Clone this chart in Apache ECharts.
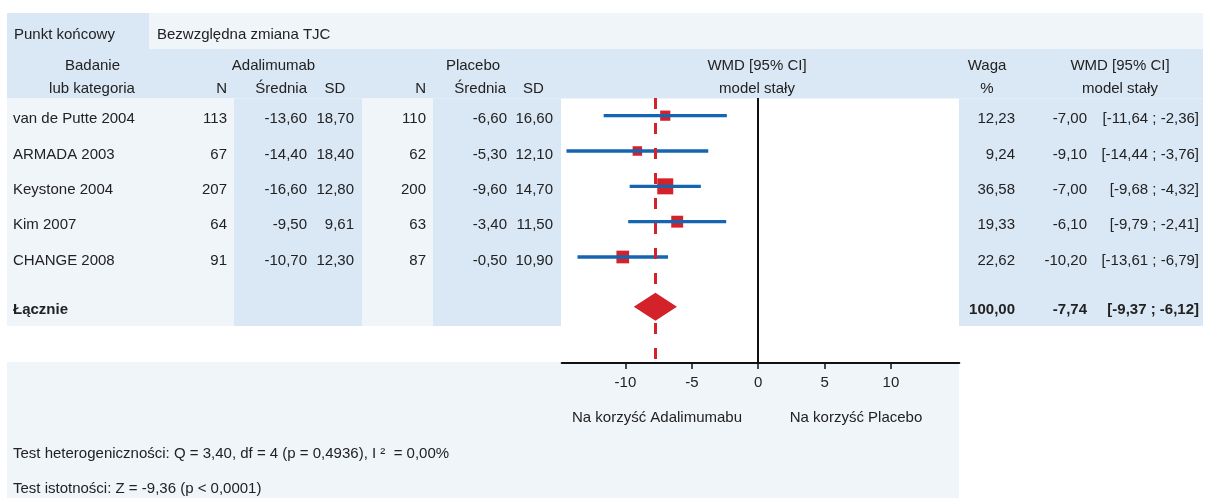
<!DOCTYPE html>
<html>
<head>
<meta charset="utf-8">
<script src="https://cdn.jsdelivr.net/npm/echarts@6/dist/echarts.min.js"></script>
<style>
  html, body { margin: 0; padding: 0; background: #fff; }
  #chart { width: 1206px; height: 498px; }
</style>
</head>
<body>
<div id="chart"></div>
<script>
// dane badań
const studies = ['van de Putte 2004', 'ARMADA 2003', 'Keystone 2004', 'Kim 2007', 'CHANGE 2008'];
const adaN = [113, 67, 207, 64, 91];
const adaMean = [-13.60, -14.40, -16.60, -9.50, -10.70];
const adaSD = [18.70, 18.40, 12.80, 9.61, 12.30];
const plaN = [110, 62, 200, 63, 87];
const plaMean = [-6.60, -5.30, -9.60, -3.40, -0.50];
const plaSD = [16.60, 12.10, 14.70, 11.50, 10.90];
const weights = [12.23, 9.24, 36.58, 19.33, 22.62];
const wmd = [-7.00, -9.10, -7.00, -6.10, -10.20];
const ciLow = [-11.64, -14.44, -9.68, -9.79, -13.61];
const ciHigh = [-2.36, -3.76, -4.32, -2.41, -6.79];

// wynik łączny
const pooledLabel = 'Łącznie';
const pooledWeight = 100.00;
const pooledWmd = -7.74;
const pooledCi = [-9.37, -6.12];

// oś x
const xTicks = [-10, -5, 0, 5, 10];

const FONT = '15px "Liberation Sans", Arial, sans-serif';
const BOLD = 'bold 15px "Liberation Sans", Arial, sans-serif';
const TEXT = '#222';
const BLUE_BG = '#dae7f4';
const LIGHT_BG = '#f0f5fa';
const RED = '#d3222a';
const LINE_BLUE = '#1565b0';

// wiersz łączny jest trochę niżej niż kolejny wiersz
const pooledRow = studies.length - 1 + 1.41;

function fmt(v) {
    return v.toFixed(2).replace('.', ',');
}
function ci(lo, hi) {
    return '[' + fmt(lo) + ' ; ' + fmt(hi) + ']';
}

// kolumny tabeli (x w pikselach, wyrównanie)
const columns = [
    {x: 13, align: 'left', get: i => studies[i]},
    {x: 227, align: 'right', get: i => adaN[i] + ''},
    {x: 307, align: 'right', get: i => fmt(adaMean[i])},
    {x: 354, align: 'right', get: i => fmt(adaSD[i])},
    {x: 426, align: 'right', get: i => plaN[i] + ''},
    {x: 507, align: 'right', get: i => fmt(plaMean[i])},
    {x: 553, align: 'right', get: i => fmt(plaSD[i])},
    {x: 1015, align: 'right', get: i => fmt(weights[i])},
    {x: 1087, align: 'right', get: i => fmt(wmd[i])},
    {x: 1199, align: 'right', get: i => ci(ciLow[i], ciHigh[i])}
];
const pooledCells = [
    {x: 13, align: 'left', text: pooledLabel},
    {x: 1015, align: 'right', text: fmt(pooledWeight)},
    {x: 1087, align: 'right', text: fmt(pooledWmd)},
    {x: 1199, align: 'right', text: ci(pooledCi[0], pooledCi[1])}
];

function txt(text, x, y, align, font) {
    return {
        type: 'text',
        x: x, y: y + 1.5,
        style: {
            text: text, fill: TEXT, font: font || FONT,
            align: align, verticalAlign: 'middle',
            textAlign: align, textVerticalAlign: 'middle'
        }
    };
}
function rect(x, y, w, h, color) {
    return {type: 'rect', shape: {x: x, y: y, width: w, height: h}, style: {fill: color}, silent: true};
}

let myChart = echarts.init(document.getElementById('chart'));

let option = {
    animation: false,
    backgroundColor: '#fff',
    graphic: [
        // tła
        rect(7, 13, 142, 36, BLUE_BG),
        rect(149, 13, 1054, 36, LIGHT_BG),
        rect(7, 49, 1196, 49.5, BLUE_BG),
        rect(7, 98.5, 227, 227.5, LIGHT_BG),
        rect(234, 98.5, 128, 227.5, BLUE_BG),
        rect(362, 98.5, 71, 227.5, LIGHT_BG),
        rect(433, 98.5, 128, 227.5, BLUE_BG),
        rect(959, 98.5, 244, 227.5, BLUE_BG),
        rect(7, 362, 952, 136, LIGHT_BG),
        // nagłówki
        txt('Punkt końcowy', 14, 33, 'left'),
        txt('Bezwzględna zmiana TJC', 157, 33, 'left'),
        txt('Badanie', 92.5, 64, 'center'),
        txt('Adalimumab', 273.5, 64, 'center'),
        txt('Placebo', 473, 64, 'center'),
        txt('WMD [95% CI]', 757, 64, 'center'),
        txt('Waga', 987, 64, 'center'),
        txt('WMD [95% CI]', 1120, 64, 'center'),
        txt('lub kategoria', 92, 87, 'center'),
        txt('N', 227, 87, 'right'),
        txt('Średnia', 307, 87, 'right'),
        txt('SD', 335, 87, 'center'),
        txt('N', 426, 87, 'right'),
        txt('Średnia', 506, 87, 'right'),
        txt('SD', 533.5, 87, 'center'),
        txt('model stały', 757, 87, 'center'),
        txt('%', 987, 87, 'center'),
        txt('model stały', 1120, 87, 'center'),
        // opisy pod osią
        txt('Na korzyść Adalimumabu', 657, 416.5, 'center'),
        txt('Na korzyść Placebo', 856, 416.5, 'center'),
        txt('Test heterogeniczności: Q = 3,40, df = 4 (p = 0,4936), I ²  = 0,00%', 13, 452, 'left'),
        txt('Test istotności: Z = -9,36 (p < 0,0001)', 13, 487, 'left')
    ],
    grid: [
        {left: 561.7, width: 397.6, top: 98, height: 265, containLabel: false},
        {left: 0, width: 1206, top: 98, height: 265, containLabel: false}
    ],
    xAxis: [
        {
            type: 'value', gridIndex: 0, min: -14.8, max: 15.15,
            axisLine: {show: true, onZero: false, lineStyle: {color: '#111', width: 2}},
            axisTick: {show: true, customValues: xTicks, length: 6, lineStyle: {color: '#111', width: 1.5}},
            axisLabel: {show: true, customValues: xTicks, color: TEXT, fontSize: 15, fontFamily: '"Liberation Sans", Arial, sans-serif', margin: 12.5},
            splitLine: {show: false}
        },
        {type: 'value', gridIndex: 1, min: 0, max: 1206, show: false}
    ],
    yAxis: [
        {type: 'value', gridIndex: 0, min: -0.5, max: 7, inverse: true, show: false},
        {type: 'value', gridIndex: 1, min: -0.5, max: 7, inverse: true, show: false}
    ],
    series: [
        // komórki tabeli
        {
            type: 'custom',
            xAxisIndex: 1, yAxisIndex: 1,
            silent: true,
            data: studies.map((s, i) => [i, i]).concat([[pooledRow, -1]]),
            renderItem: function(params, api) {
                let row = api.value(0);
                let idx = api.value(1);
                let y = api.coord([0, row])[1] + 2;
                let children = [];
                if (idx >= 0) {
                    for (let col of columns) {
                        children.push(txt(col.get(idx), api.coord([col.x, row])[0], y, col.align));
                    }
                } else {
                    for (let cell of pooledCells) {
                        children.push(txt(cell.text, api.coord([cell.x, row])[0], y, cell.align, BOLD));
                    }
                }
                return {type: 'group', children: children};
            }
        },
        // kwadraty - wagi
        {
            type: 'scatter',
            xAxisIndex: 0, yAxisIndex: 0,
            symbol: 'rect',
            symbolSize: function(v) {
                return 7.3 + 0.238 * v[2];
            },
            itemStyle: {color: RED, opacity: 1},
            z: 2,
            data: studies.map((s, i) => [wmd[i], i, weights[i]])
        },
        // przedziały ufności
        {
            type: 'custom',
            xAxisIndex: 0, yAxisIndex: 0,
            z: 3,
            data: studies.map((s, i) => [ciLow[i], ciHigh[i], i]),
            renderItem: function(params, api) {
                let a = api.coord([api.value(0), api.value(2)]);
                let b = api.coord([api.value(1), api.value(2)]);
                return {
                    type: 'line',
                    shape: {x1: a[0], y1: a[1], x2: b[0], y2: b[1]},
                    style: {stroke: LINE_BLUE, lineWidth: 3.3}
                };
            }
        },
        // romb + linie pionowe
        {
            type: 'custom',
            xAxisIndex: 0, yAxisIndex: 0,
            z: 4,
            data: [[pooledCi[0], pooledWmd, pooledCi[1], pooledRow]],
            renderItem: function(params, api) {
                let row = api.value(3);
                let l = api.coord([api.value(0), row]);
                let c = api.coord([api.value(1), row]);
                let r = api.coord([api.value(2), row]);
                let h = 14;
                return {
                    type: 'polygon',
                    shape: {points: [[l[0], l[1]], [c[0], c[1] - h], [r[0], r[1]], [c[0], c[1] + h]]},
                    style: {fill: RED}
                };
            },
            markLine: {
                silent: true,
                symbol: 'none',
                label: {show: false},
                data: [
                    {xAxis: 0, lineStyle: {color: '#111', width: 2, type: 'solid'}},
                    {xAxis: pooledWmd, lineStyle: {color: RED, width: 3, type: [11, 14]}}
                ]
            }
        }
    ]
};

myChart.setOption(option);
</script>
</body>
</html>
